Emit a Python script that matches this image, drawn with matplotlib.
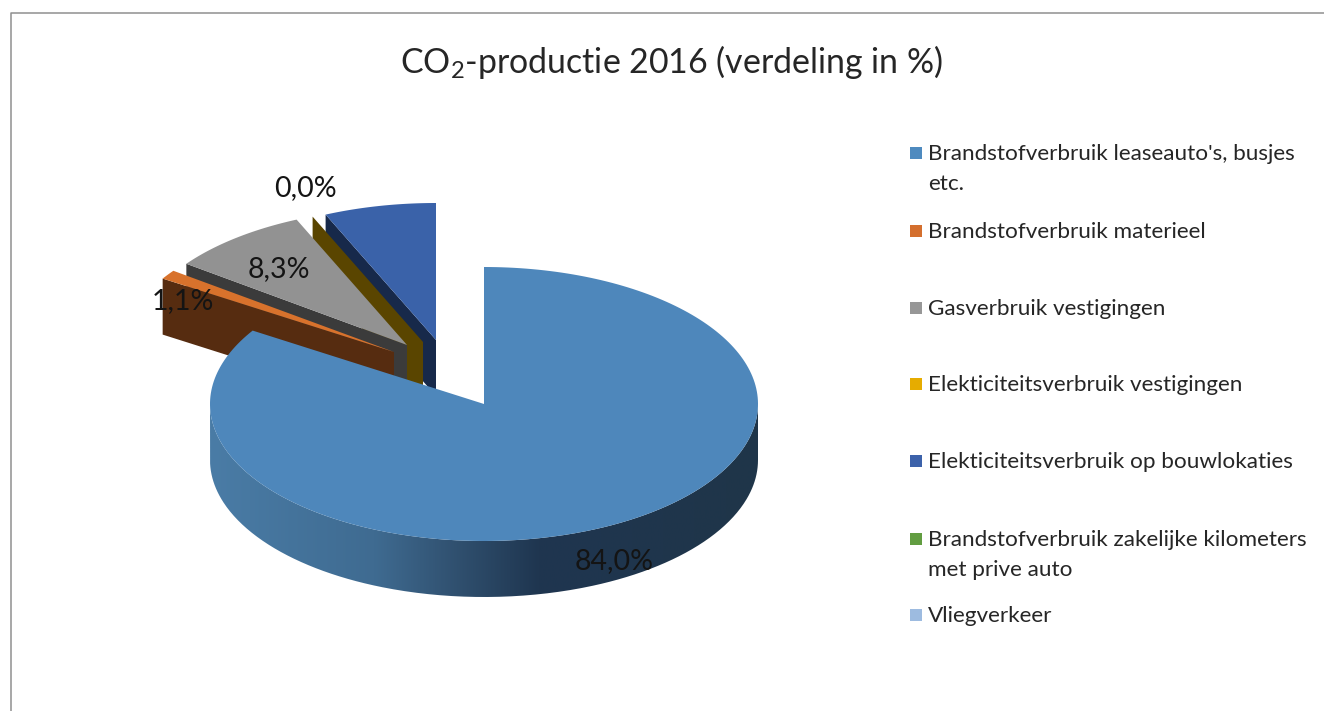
"""CO2-productie 2016: exploded Excel-style 3D pie, drawn on a pixel-sized axes."""

import matplotlib

matplotlib.use("Agg")
import matplotlib.pyplot as plt
import numpy as np
from matplotlib.colors import LinearSegmentedColormap
from matplotlib.patches import PathPatch, Rectangle
from matplotlib.path import Path

TITLE = "CO$_2$-productie 2016 (verdeling in %)"
CATEGORIES = [
    "Brandstofverbruik leaseauto's, busjes\netc.",
    "Brandstofverbruik materieel",
    "Gasverbruik vestigingen",
    "Elekticiteitsverbruik vestigingen",
    "Elekticiteitsverbruik op bouwlokaties",
    "Brandstofverbruik zakelijke kilometers\nmet prive auto",
    "Vliegverkeer",
]
SHARES = [84.0, 1.1, 8.3, 0.0, 6.6, 0.0, 0.0]
LABELLED = [0, 1, 2, 3]

# colours
LEGEND_COLORS = ["#4e8abf", "#d46f2e", "#979797", "#e6ac00", "#3c62aa", "#629d41", "#9dbbe0"]
TOP_COLORS = ["#4e87bb", "#d8722c", "#929292", "#e6ac00", "#3a62a9"]
WALL_COLORS = [None, "#562c10", "#3b3b3b", "#5a4500", "#17294a"]
RIM_STOPS = [(0.0, "#4a7ca6"), (0.3, "#3f6b91"), (0.45, "#30506f"), (0.6, "#1f3650"), (1.0, "#1f3549")]
TEXT_COLOR = "#262626"
LABEL_COLOR = "#141414"
FRAME_COLOR = "#8f8f8f"

# layout, in reference pixels
RX, RY, DEPTH = 274, 137, 56
APEX = {0: (484, 404), 1: (394, 352), 2: (407, 345), 3: (423, 342), 4: (436, 340)}
LABEL_POS = {0: (614, 561), 1: (183, 301), 2: (279, 269), 3: (305, 188)}
LEGEND_Y = [154, 232, 309, 385, 462, 540, 616]
LEGEND_LINE = 30

plt.rcParams["font.family"] = ["Lato", "DejaVu Sans"]
plt.rcParams["mathtext.fontset"] = "custom"
plt.rcParams["mathtext.rm"] = "Lato"
plt.rcParams["mathtext.default"] = "regular"


def rim_point(apex, angle):
    """Point on the ellipse, angle in degrees clockwise from 12 o'clock."""
    t = np.radians(angle)
    return apex[0] + RX * np.sin(t), apex[1] - RY * np.cos(t)


def idx_z(idx):
    # back to front: blue, gold, gray, orange, then the big slice
    return {4: 2, 3: 3, 2: 4, 1: 5, 0: 6}[idx]


def draw_top(ax, idx, a0, a1):
    apex = APEX[idx]
    angles = np.linspace(a0, a1, 240)
    xs, ys = rim_point(apex, angles)
    ax.fill(np.r_[apex[0], xs], np.r_[apex[1], ys], color=TOP_COLORS[idx], lw=0, zorder=idx_z(idx) + 0.5)


def draw_wall(ax, idx, angle):
    apex = APEX[idx]
    ox, oy = rim_point(apex, angle)
    ax.fill(
        [ox, apex[0], apex[0], ox],
        [oy, apex[1], apex[1] + DEPTH, oy + DEPTH],
        color=WALL_COLORS[idx],
        lw=0,
        zorder=idx_z(idx),
    )


def main():
    fig = plt.figure(figsize=(13.24, 7.11), dpi=100, facecolor="white")
    ax = fig.add_axes([0, 0, 1, 1])

    edges = np.r_[0, np.cumsum(SHARES)] * 3.6

    # front rim of the big slice with its left-to-right shading
    apex = APEX[0]
    front = np.linspace(90, 270, 360)
    xs, ys = rim_point(apex, front)
    verts = np.r_[np.c_[xs, ys], np.c_[xs[::-1], ys[::-1] + DEPTH], [[xs[0], ys[0]]]]
    rim = PathPatch(Path(verts), transform=ax.transData, fc="none", ec="none")
    ax.add_patch(rim)
    cmap = LinearSegmentedColormap.from_list("rim", RIM_STOPS)
    img = ax.imshow(
        np.linspace(0, 1, 256)[None, :],
        cmap=cmap,
        extent=(apex[0] - RX, apex[0] + RX, apex[1] + RY + DEPTH, apex[1] - RY),
        aspect="auto",
        zorder=5.8,
    )
    img.set_clip_path(rim)

    for idx in [4, 3, 2, 1]:
        draw_wall(ax, idx, edges[idx])
        if SHARES[idx] > 0:
            draw_top(ax, idx, edges[idx], edges[idx + 1])
    draw_top(ax, 0, edges[0], edges[1])

    for idx in LABELLED:
        x, y = LABEL_POS[idx]
        ax.text(x, y, f"{SHARES[idx]:.1f}%".replace(".", ","), fontsize=20.5, color=LABEL_COLOR,
                ha="center", va="center", zorder=10)

    ax.text(672, 62, TITLE, fontsize=24.4, color=TEXT_COLOR, ha="center", va="center")

    for name, color, y in zip(CATEGORIES, LEGEND_COLORS, LEGEND_Y):
        ax.add_patch(Rectangle((909.5, y - 7), 12, 12, fc=color, ec="none"))
        for n, line in enumerate(name.split("\n")):
            ax.text(928, y + n * LEGEND_LINE, line, fontsize=16.2, color=TEXT_COLOR, ha="left", va="center")

    # chart frame, only top and left fall inside the crop
    ax.plot([10.7, 10.7, 1324], [711, 12.5, 12.5], color=FRAME_COLOR, lw=1.1)

    ax.set_xlim(0, 1324)
    ax.set_ylim(711, 0)
    ax.axis("off")
    fig.savefig("out.png", dpi=100)
    plt.close(fig)


if __name__ == "__main__":
    main()
